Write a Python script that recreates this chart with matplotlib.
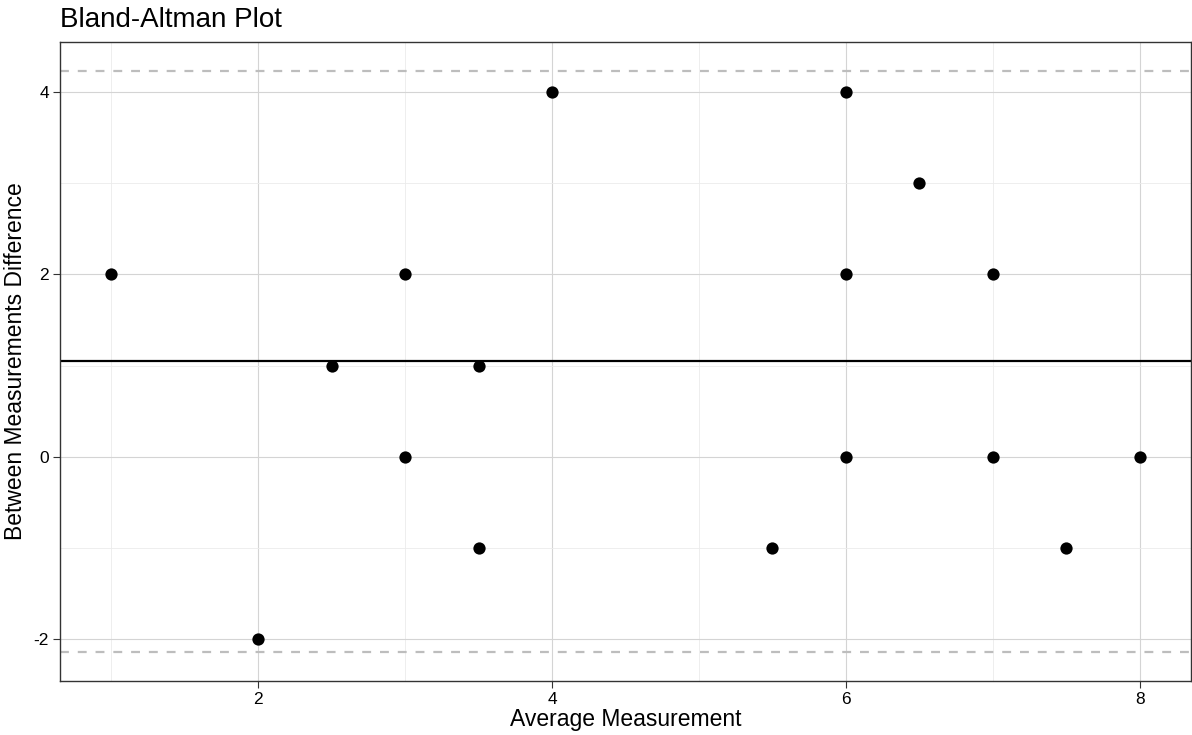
import matplotlib.pyplot as plt
from matplotlib.ticker import MultipleLocator

plt.rcParams['font.family'] = ['Liberation Sans', 'DejaVu Sans']
plt.rcParams['axes.unicode_minus'] = False

# averages and differences
avg = [1, 2, 2.5, 3, 3, 3.5, 3.5, 4, 5.5, 6, 6, 6, 6.5, 7, 7, 7.5, 8]
diff = [2, -2, 1, 2, 0, 1, -1, 4, -1, 4, 2, 0, 3, 2, 0, -1, 0]

# mean difference and limits of agreement
mean_diff = 1.045
lower_loa = -2.14
upper_loa = 4.23

fig = plt.figure(figsize=(11.92, 7.35), dpi=100)
ax = fig.add_axes([0.0503, 0.0735, 0.9489, 0.8694])

ax.scatter(avg, diff, s=78, color='black', zorder=3, linewidths=0)
ax.axhline(mean_diff, color='black', lw=1.6, zorder=2)
for y in (lower_loa, upper_loa):
    ax.axhline(y, color='#bdbdbd', lw=1.6, linestyle=(0, (4, 4)), zorder=2)

# ggplot-like 5% expansion
xr = max(avg) - min(avg)
ax.set_xlim(min(avg) - 0.05 * xr, max(avg) + 0.05 * xr)
ylo, yhi = min(min(diff), lower_loa), max(max(diff), upper_loa)
yr = yhi - ylo
ax.set_ylim(ylo - 0.05 * yr, yhi + 0.05 * yr)

ax.xaxis.set_major_locator(MultipleLocator(2))
ax.xaxis.set_minor_locator(MultipleLocator(1))
ax.yaxis.set_major_locator(MultipleLocator(2))
ax.yaxis.set_minor_locator(MultipleLocator(1))
ax.grid(which='major', color='#d4d4d4', lw=0.8)
ax.grid(which='minor', color='#ebebeb', lw=0.6)
ax.set_axisbelow(True)
ax.tick_params(which='major', length=5, width=0.8, color='#333333',
               labelsize=12.5, labelcolor='black', pad=3)
ax.tick_params(which='minor', length=0)
for sp in ax.spines.values():
    sp.set_color('#333333')
    sp.set_linewidth(1.0)

ax.set_xlabel('Average Measurement', fontsize=16.5, labelpad=1)
ax.set_ylabel('Between Measurements Difference', fontsize=16.5, labelpad=5)
ax.set_title('Bland-Altman Plot', fontsize=20, loc='left', pad=11)

fig.savefig('out.png', dpi=100)
